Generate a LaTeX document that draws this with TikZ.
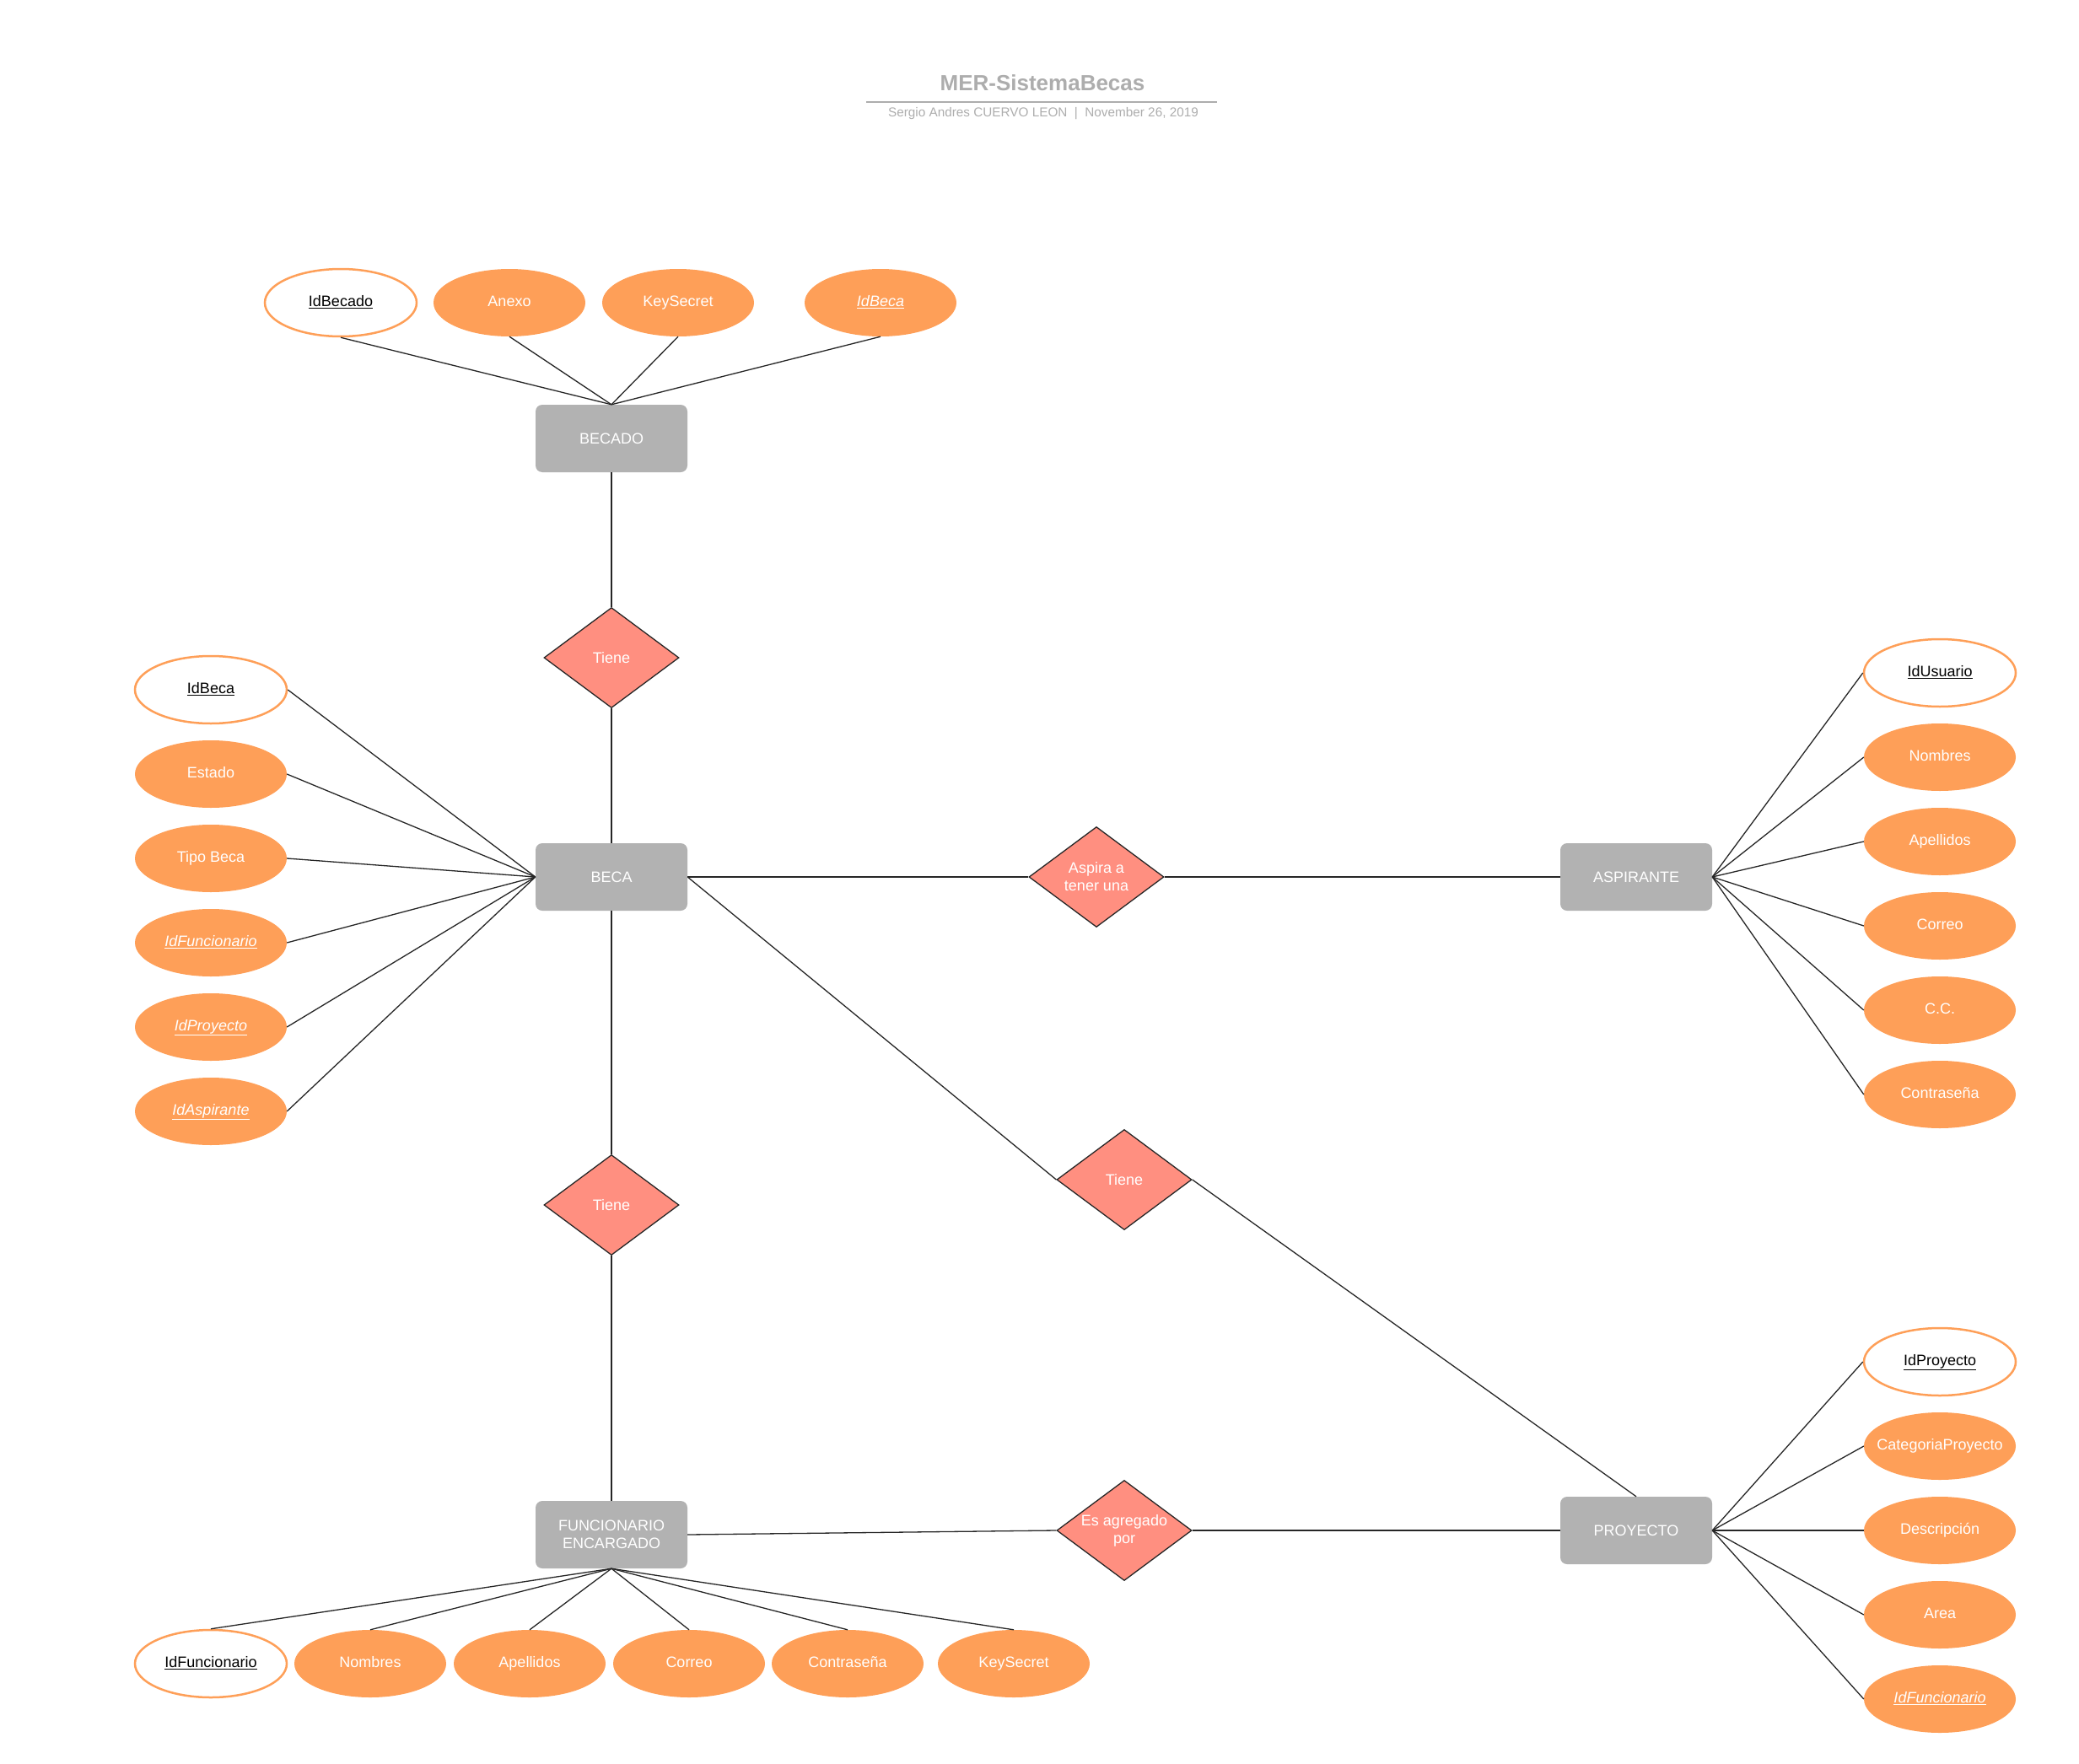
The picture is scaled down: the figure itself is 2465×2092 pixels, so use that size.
\documentclass[tikz,border=0pt]{standalone}
\usepackage{fontspec}
\setmainfont{Liberation Sans}
\usetikzlibrary{shapes.geometric}

\definecolor{naranja}{HTML}{FE9F58}
\definecolor{salmon}{HTML}{FF8F80}
\definecolor{gris}{HTML}{B2B2B2}
\definecolor{grisTit}{HTML}{ADADAD}

\begin{document}
\begin{tikzpicture}[x=1pt,y=-1pt,
    entidad/.style={rectangle, rounded corners=8pt, fill=gris, text=white,
        minimum width=180pt, minimum height=80pt, inner sep=0pt, align=center,
        font=\fontsize{18}{21}\selectfont},
    atributo/.style={ellipse, fill=naranja, text=white, minimum width=180pt,
        minimum height=80pt, inner sep=0pt, text height=13pt, text depth=4pt,
        font=\fontsize{18}{21}\selectfont},
    clave/.style={atributo, fill=white, draw=naranja, line width=2.5pt, text=black},
    relacion/.style={diamond, fill=salmon, draw=black!85, line width=1.3pt,
        minimum width=160pt, minimum height=119pt, inner sep=0pt},
    txtrel/.style={text=white, align=center, font=\fontsize{18}{21}\selectfont},
    linea/.style={draw=black!85, line width=1.3pt}]

    \useasboundingbox (0,0) rectangle (2465,2092);

    % titulo
    \node[font=\bfseries\fontsize{26}{30}\selectfont, text=grisTit] (titulo) at (1236,98) {MER-SistemaBecas};
    \draw[grisTit, line width=2.5pt] (1027,121) -- (1443,121);
    \node[font=\fontsize{15.3}{18}\selectfont, text=grisTit] (subtitulo) at (1237,135)
        {Sergio Andres CUERVO LEON \ | \ November 26, 2019};

    % entidades
    \node[entidad] (becado)      at (725,520)   {BECADO};
    \node[entidad] (beca)        at (725,1040)  {BECA};
    \node[entidad] (aspirante)   at (1940,1040) {ASPIRANTE};
    \node[entidad] (funcionario) at (725,1820)  {FUNCIONARIO\\ENCARGADO};
    \node[entidad] (proyecto)    at (1940,1815) {PROYECTO};

    % relaciones
    \node[relacion] (tieneA)   at (725,780)   {};
    \node[txtrel] at (tieneA) {Tiene};
    \node[relacion] (aspira)   at (1300,1040) {};
    \node[txtrel] at (aspira) {Aspira a\\tener una};
    \node[relacion] (tieneB)   at (1333,1399) {};
    \node[txtrel] at (tieneB) {Tiene};
    \node[relacion] (tieneC)   at (725,1429)  {};
    \node[txtrel] at (tieneC) {Tiene};
    \node[relacion] (agregado) at (1333,1815) {};
    \node[txtrel] at (agregado) {Es agregado\\por};

    % atributos de BECADO
    \node[clave]    (idBecado)  at (404,359)  {\underline{IdBecado}};
    \node[atributo] (anexo)     at (604,359)  {Anexo};
    \node[atributo] (keyBecado) at (804,359)  {KeySecret};
    \node[atributo] (idBecaFk)  at (1044,359) {\underline{\textit{IdBeca}}};
    \foreach \a in {idBecado,anexo,keyBecado,idBecaFk}
        \draw[linea] (\a.south) -- (becado.north);

    % atributos de BECA
    \node[clave]    (idBeca)    at (250,818)  {\underline{IdBeca}};
    \node[atributo] (estado)    at (250,918)  {Estado};
    \node[atributo] (tipoBeca)  at (250,1018) {Tipo Beca};
    \node[atributo] (idFuncFk)  at (250,1118) {\underline{\textit{IdFuncionario}}};
    \node[atributo] (idProyFk)  at (250,1218) {\underline{\textit{IdProyecto}}};
    \node[atributo] (idAspFk)   at (250,1318) {\underline{\textit{IdAspirante}}};
    \foreach \a in {idBeca,estado,tipoBeca,idFuncFk,idProyFk,idAspFk}
        \draw[linea] (\a.east) -- (beca.west);

    % atributos de ASPIRANTE
    \node[clave]    (idUsuario)     at (2300,798)  {\underline{IdUsuario}};
    \node[atributo] (nombresAsp)    at (2300,898)  {Nombres};
    \node[atributo] (apellidosAsp)  at (2300,998)  {Apellidos};
    \node[atributo] (correoAsp)     at (2300,1098) {Correo};
    \node[atributo] (cc)            at (2300,1198) {C.C.};
    \node[atributo] (contrasenaAsp) at (2300,1298) {Contraseña};
    \foreach \a in {idUsuario,nombresAsp,apellidosAsp,correoAsp,cc,contrasenaAsp}
        \draw[linea] (\a.west) -- (aspirante.east);

    % atributos de PROYECTO
    \node[clave]    (idProyecto)  at (2300,1615) {\underline{IdProyecto}};
    \node[atributo] (categoria)   at (2300,1715) {\makebox[0pt]{CategoriaProyecto}};
    \node[atributo] (descripcion) at (2300,1815) {Descripción};
    \node[atributo] (area)        at (2300,1915) {Area};
    \node[atributo] (idFuncProy)  at (2300,2015) {\underline{\textit{IdFuncionario}}};
    \foreach \a in {idProyecto,categoria,descripcion,area,idFuncProy}
        \draw[linea] (\a.west) -- (proyecto.east);

    % atributos de FUNCIONARIO ENCARGADO
    \node[clave]    (idFuncionario) at (250,1973)  {\underline{IdFuncionario}};
    \node[atributo] (nombresFun)    at (439,1973)  {Nombres};
    \node[atributo] (apellidosFun)  at (628,1973)  {Apellidos};
    \node[atributo] (correoFun)     at (817,1973)  {Correo};
    \node[atributo] (contrasenaFun) at (1005,1973) {Contraseña};
    \node[atributo] (keyFun)        at (1202,1973) {KeySecret};
    \foreach \a in {idFuncionario,nombresFun,apellidosFun,correoFun,contrasenaFun,keyFun}
        \draw[linea] (\a.north) -- (funcionario.south);

    % conexiones entre entidades y relaciones
    \draw[linea] (becado.south) -- (tieneA.north);
    \draw[linea] (tieneA.south) -- (beca.north);
    \draw[linea] (beca.east) -- (aspira.west);
    \draw[linea] (aspira.east) -- (aspirante.west);
    \draw[linea] (beca.east) -- (tieneB.west);
    \draw[linea] (tieneB.east) -- (proyecto.north);
    \draw[linea] (beca.south) -- (tieneC.north);
    \draw[linea] (tieneC.south) -- (funcionario.north);
    \draw[linea] (funcionario.east) -- (agregado.west);
    \draw[linea] (agregado.east) -- (proyecto.west);
\end{tikzpicture}
\end{document}
